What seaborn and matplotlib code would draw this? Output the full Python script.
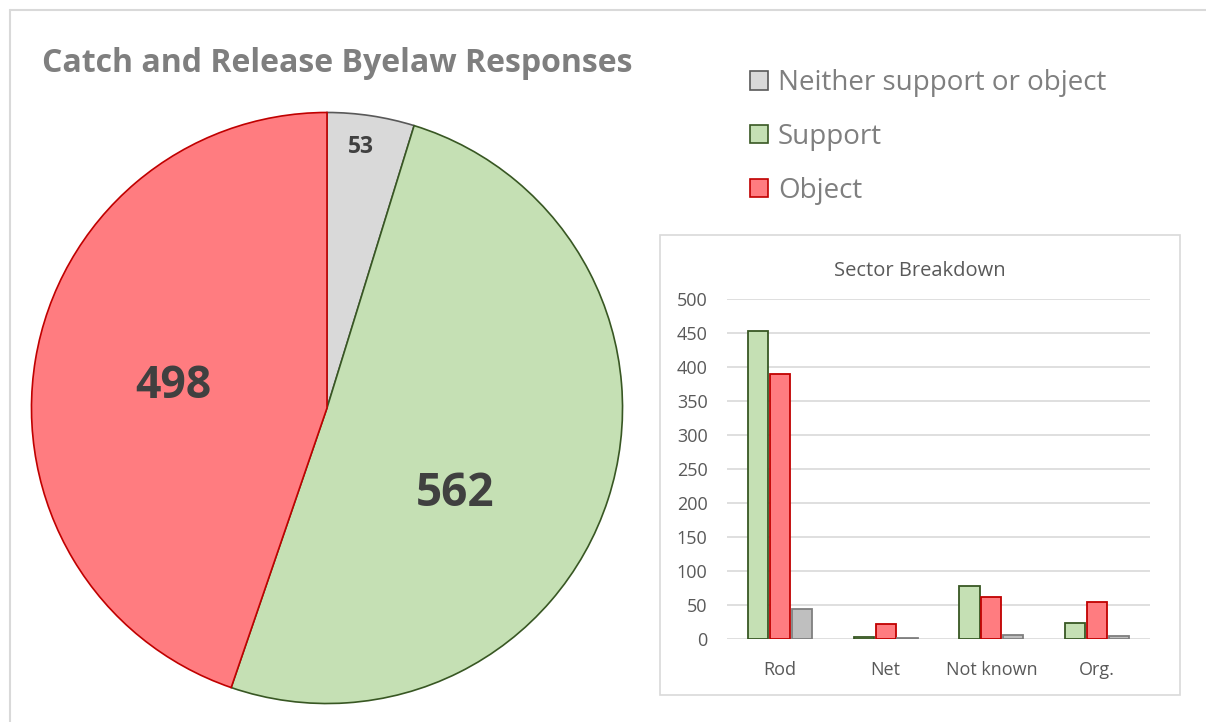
import matplotlib
matplotlib.use("Agg")
import matplotlib.pyplot as plt
import seaborn as sns
import pandas as pd
from matplotlib.patches import Patch, Rectangle
from matplotlib.lines import Line2D

# ---- data ----
pie_labels = ["Neither support or object", "Support", "Object"]
pie_values = [53, 562, 498]

sectors = ["Rod", "Net", "Not known", "Org."]
support_vals = [453, 3, 78, 24]
object_vals = [390, 22, 62, 54]
neither_vals = [44, 1, 6, 4]

sns.set_theme(style="white")
plt.rcParams['font.family'] = ['Open Sans', 'DejaVu Sans']

W, H = 1206, 722
fig = plt.figure(figsize=(W / 100, H / 100), dpi=100)
fig.patch.set_facecolor("white")

def ax_px(x0, y0, x1, y1):
    return fig.add_axes([x0 / W, 1 - y1 / H, (x1 - x0) / W, (y1 - y0) / H])

# outer frame (top and left edges)
fig.add_artist(Line2D([10 / W, 10 / W], [0, 1 - 10 / H], color="#d9d9d9", lw=1.5))
fig.add_artist(Line2D([10 / W, 1], [1 - 10 / H, 1 - 10 / H], color="#d9d9d9", lw=1.5))

# ---- pie ----
pie_fill = {"Neither support or object": "#d9d9d9", "Support": "#c5e0b4", "Object": "#ff7c80"}
pie_edge = {"Neither support or object": "#595959", "Support": "#385723", "Object": "#c00000"}

axp = ax_px(30, 111, 624, 705)
wedges, _ = axp.pie(pie_values, startangle=90, counterclock=False,
                    colors=[pie_fill[l] for l in pie_labels], radius=1)
for w, l in zip(wedges, pie_labels):
    w.set_edgecolor(pie_edge[l])
    w.set_linewidth(1.2)
axp.set_xlim(-1.005, 1.005)
axp.set_ylim(-1.005, 1.005)
axp.set_aspect("equal")

fig.text(361 / W, 1 - 147 / H, str(pie_values[0]), ha="center", va="center",
         fontsize=16.5, fontweight="bold", color="#404040")
fig.text(455 / W, 1 - 494 / H, str(pie_values[1]), ha="center", va="center",
         fontsize=33, fontweight="bold", color="#404040")
fig.text(173 / W, 1 - 386 / H, str(pie_values[2]), ha="center", va="center",
         fontsize=32, fontweight="bold", color="#404040")

fig.text(42 / W, 1 - 64 / H, "Catch and Release Byelaw Responses", ha="left", va="center",
         fontsize=23, fontweight="bold", color="#7f7f7f")

# ---- legend ----
handles = [Patch(facecolor=pie_fill[l], edgecolor=pie_edge[l], linewidth=1.2, label=l)
           for l in pie_labels]
leg = fig.legend(handles=handles, loc="upper left", bbox_to_anchor=(750 / W, 1 - 69 / H),
                 frameon=False, fontsize=20, labelcolor="#7f7f7f",
                 handlelength=0.65, handleheight=0.65, handletextpad=0.35,
                 labelspacing=0.93, borderaxespad=0, borderpad=0)

# ---- inset frame ----
fig.add_artist(Rectangle((660 / W, 1 - 695 / H), (1180 - 660) / W, (695 - 235) / H,
                         fill=False, edgecolor="#d9d9d9", lw=1.2))

# ---- bar chart ----
rows = []
for s, a, b, c in zip(sectors, support_vals, object_vals, neither_vals):
    rows.append({"Sector": s, "Response": "Support", "Count": a})
    rows.append({"Sector": s, "Response": "Object", "Count": b})
    rows.append({"Sector": s, "Response": "Neither", "Count": c})
df = pd.DataFrame(rows)

bar_fill = {"Support": "#c5e0b4", "Object": "#ff7c80", "Neither": "#bfbfbf"}
bar_edge = {"Support": "#385723", "Object": "#c00000", "Neither": "#7f7f7f"}
hue_order = ["Support", "Object", "Neither"]

axb = ax_px(727, 299, 1150, 639)
sns.barplot(data=df, x="Sector", y="Count", hue="Response", hue_order=hue_order,
            order=sectors, palette=bar_fill, width=0.62, gap=0.08, ax=axb,
            legend=False, saturation=1)
for cont, h in zip(axb.containers, hue_order):
    for p in cont:
        p.set_edgecolor(bar_edge[h])
        p.set_linewidth(1.3)

axb.set_ylim(0, 500)
axb.set_xlim(-0.5, 3.5)
axb.set_yticks(range(0, 501, 50))
axb.yaxis.grid(True, color="#d9d9d9", lw=1.2)
axb.set_axisbelow(True)
for sp in axb.spines.values():
    sp.set_visible(False)
axb.set_xlabel("")
axb.set_ylabel("")
axb.tick_params(axis="both", length=0, labelsize=13, labelcolor="#595959")
axb.tick_params(axis="y", pad=14)
axb.tick_params(axis="x", pad=16)

fig.text(920 / W, 1 - 271 / H, "Sector Breakdown", ha="center", va="center",
         fontsize=14.5, color="#595959")

fig.savefig("out.png", dpi=100, facecolor="white")
